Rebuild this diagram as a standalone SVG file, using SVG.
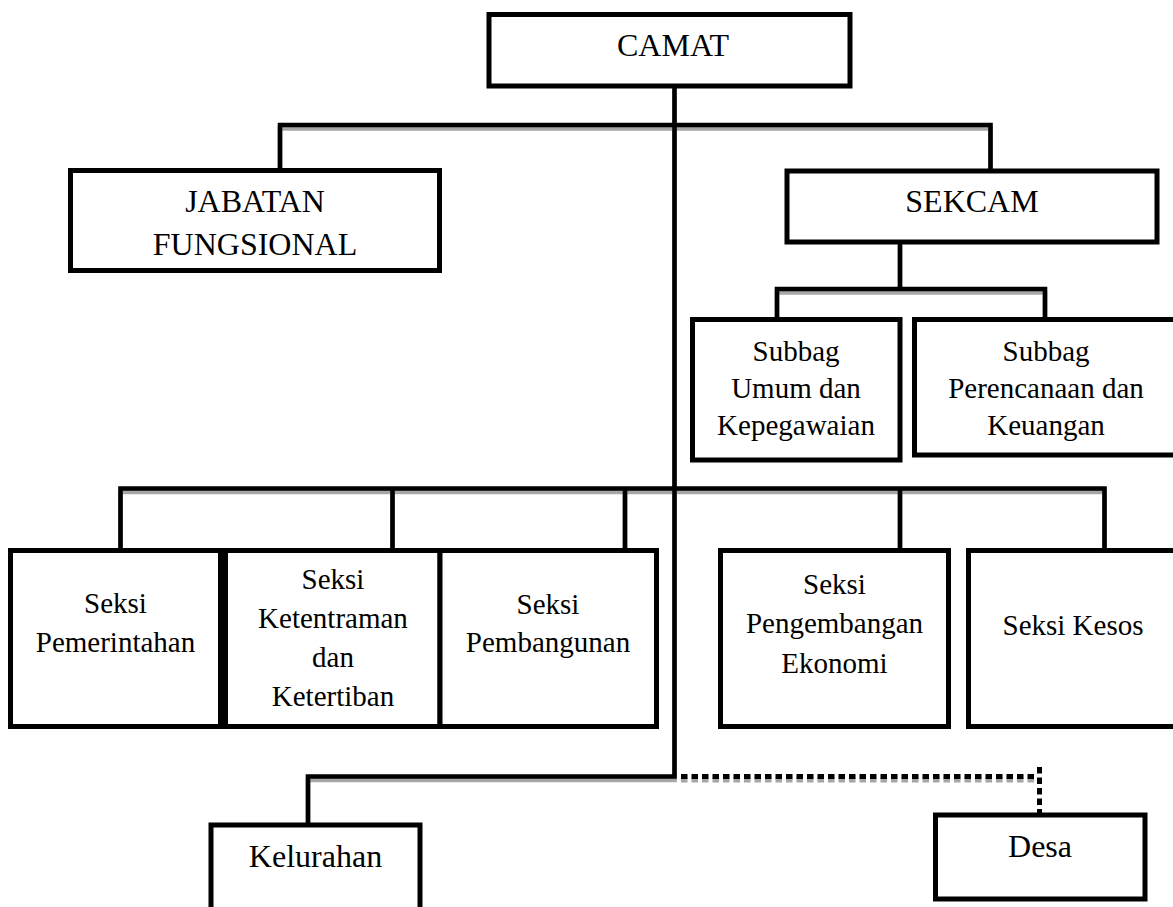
<svg xmlns="http://www.w3.org/2000/svg" width="1173" height="907" viewBox="0 0 1173 907">
<style>
.box{fill:#fff;stroke:#000;stroke-width:5}
.ln{fill:none;stroke:#000;stroke-width:4.6;stroke-linejoin:miter;stroke-linecap:butt}
.sh{fill:none;stroke:#a6a6a6;stroke-width:4.6;stroke-linejoin:miter}
.dot{fill:none;stroke:#000;stroke-width:5;stroke-dasharray:6.5 4}
.dotsh{fill:none;stroke:#a6a6a6;stroke-width:5;stroke-dasharray:6.5 4}
text{font-family:'Liberation Serif','Times New Roman',Tinos,'DejaVu Serif',serif;fill:#000;text-anchor:middle}
.t32{font-size:32px}
.t29{font-size:29px}
</style>
<rect width="1173" height="907" fill="#fff"/>
<g id="connectors">
  <g transform="translate(0,3.5)">
    <path class="sh" d="M674.5 86 V776.5 H308 V825"/>
    <path class="sh" d="M280 170.5 V125 H990.5 V171"/>
    <path class="sh" d="M900 242 V289"/>
    <path class="sh" d="M777 319.5 V289 H1045 V319.5"/>
    <path class="sh" d="M120.5 550.5 V488.5 H1104.5 V550.5"/>
    <path class="sh" d="M392.5 488.5 V550.5 M625 488.5 V550.5 M900 488.5 V550.5"/>
    <path class="dotsh" d="M681 776.5 H1037"/>
  </g>
  <path class="ln" d="M674.5 86 V776.5 H308 V825"/>
  <path class="ln" d="M280 170.5 V125 H990.5 V171"/>
  <path class="ln" d="M900 242 V289"/>
  <path class="ln" d="M777 319.5 V289 H1045 V319.5"/>
  <path class="ln" d="M120.5 550.5 V488.5 H1104.5 V550.5"/>
  <path class="ln" d="M392.5 488.5 V550.5 M625 488.5 V550.5 M900 488.5 V550.5"/>
  <path class="dot" d="M681 776.5 H1037"/>
  <path class="dot" d="M1039.5 767 V815"/>
</g>
<g id="camat">
  <rect class="box" x="489" y="14.5" width="361" height="71.5"/>
  <text class="t32" x="673" y="56">CAMAT</text>
</g>
<g id="jabatan-fungsional">
  <rect class="box" x="70.5" y="170.5" width="369" height="100"/>
  <text class="t32" x="255" y="212">JABATAN</text>
  <text class="t32" x="255" y="255">FUNGSIONAL</text>
</g>
<g id="sekcam">
  <rect class="box" x="787" y="171" width="370" height="71"/>
  <text class="t32" x="972" y="212">SEKCAM</text>
</g>
<g id="subbag-umum">
  <rect class="box" x="692.5" y="319.5" width="207.5" height="140.5"/>
  <text class="t29" x="796" y="361">Subbag</text>
  <text class="t29" x="796" y="398">Umum dan</text>
  <text class="t29" x="796" y="435">Kepegawaian</text>
</g>
<g id="subbag-perencanaan">
  <rect class="box" x="914.5" y="319.5" width="264" height="135.5"/>
  <text class="t29" x="1046" y="361">Subbag</text>
  <text class="t29" x="1046" y="398">Perencanaan dan</text>
  <text class="t29" x="1046" y="435">Keuangan</text>
</g>
<g id="seksi-pemerintahan">
  <rect class="box" x="10.5" y="550.5" width="210" height="176"/>
  <text class="t29" x="115.5" y="613">Seksi</text>
  <text class="t29" x="115.5" y="652">Pemerintahan</text>
</g>
<g id="seksi-ketentraman">
  <rect class="box" x="225.5" y="550.5" width="214.5" height="176"/>
  <text class="t29" x="333" y="589">Seksi</text>
  <text class="t29" x="333" y="628">Ketentraman</text>
  <text class="t29" x="333" y="667">dan</text>
  <text class="t29" x="333" y="706">Ketertiban</text>
</g>
<g id="seksi-pembangunan">
  <rect class="box" x="440" y="550.5" width="216.5" height="176"/>
  <text class="t29" x="548" y="614">Seksi</text>
  <text class="t29" x="548" y="652">Pembangunan</text>
</g>
<g id="seksi-pengembangan-ekonomi">
  <rect class="box" x="720.5" y="550.5" width="228" height="176"/>
  <text class="t29" x="834.5" y="594">Seksi</text>
  <text class="t29" x="834.5" y="633">Pengembangan</text>
  <text class="t29" x="834.5" y="673">Ekonomi</text>
</g>
<g id="seksi-kesos">
  <rect class="box" x="968.5" y="550.5" width="210" height="176"/>
  <text class="t29" x="1073" y="635">Seksi Kesos</text>
</g>
<g id="kelurahan">
  <rect class="box" x="211" y="825" width="209" height="95"/>
  <text class="t32" x="315.5" y="867">Kelurahan</text>
</g>
<g id="desa">
  <rect class="box" x="935.5" y="815" width="209.5" height="84"/>
  <text class="t32" x="1040" y="857">Desa</text>
</g>
</svg>
